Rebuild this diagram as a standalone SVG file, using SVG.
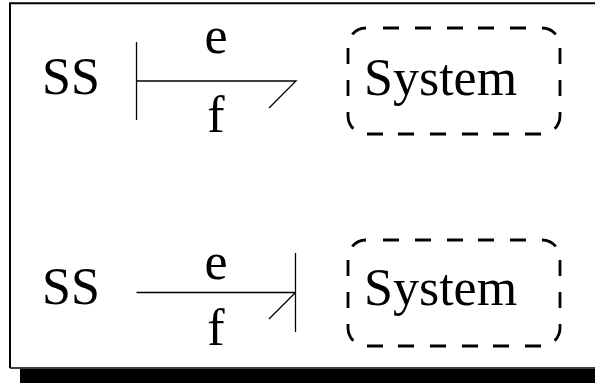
<svg xmlns="http://www.w3.org/2000/svg" width="595" height="383" viewBox="0 0 595 383">
<style>
.t{font-family:"Liberation Serif","Times New Roman",serif;fill:#000}
.big{font-size:52px}
.ln{stroke:#000;stroke-width:1.3;fill:none}
.box{stroke:#000;stroke-width:2.8;fill:none}
</style>
<defs>
<g id="dashbox" class="box">
<path d="M383 28 H399 M415 28 H431 M447 28 H463 M478 28 H494 M510 28 H526"/>
<path d="M367 134 H383 M398 134 H414 M430 134 H446 M462 134 H478 M493 134 H509 M525 134 H541"/>
<path d="M348 48 V64 M348 80 V96 M560 48 V64 M560 80 V96"/>
<path d="M352.2 34.4 A18 18 0 0 1 366 28"/>
<path d="M542 28 A18 18 0 0 1 555.8 34.4"/>
<path d="M348 112 V116 A18 18 0 0 0 353.3 128.7"/>
<path d="M560 112 V116 A18 18 0 0 1 554.7 128.7"/>
</g>
</defs>
<rect x="0" y="0" width="595" height="383" fill="#fff"/>
<g id="frame">
<rect x="20" y="369" width="575" height="14" fill="#000"/>
<path d="M10 368 V3.3 H600" fill="none" stroke="#000" stroke-width="2"/>
<line x1="10" y1="368" x2="600" y2="368" stroke="#000" stroke-width="1.5"/>
</g>
<g id="ss1"><text class="t big" x="42" y="94">SS</text></g>
<g id="system1">
<use href="#dashbox"/>
<text class="t big" x="364" y="95">System</text>
</g>
<g id="ss2"><text class="t big" x="42" y="304">SS</text></g>
<g id="system2">
<use href="#dashbox" transform="translate(0 212)"/>
<text class="t big" x="364" y="305">System</text>
</g>
<g id="connectors">
<path class="ln" d="M136.5 42 V120 M136.5 81 H296 L269 108"/>
<text class="t big" x="216" y="53" text-anchor="middle">e</text>
<text class="t big" x="216" y="132" text-anchor="middle">f</text>
<path class="ln" d="M136.5 292.5 H295.5 M295.5 253 V332 M295.5 292.5 L269 319"/>
<text class="t big" x="216" y="279" text-anchor="middle">e</text>
<text class="t big" x="216" y="345" text-anchor="middle">f</text>
</g>
</svg>
